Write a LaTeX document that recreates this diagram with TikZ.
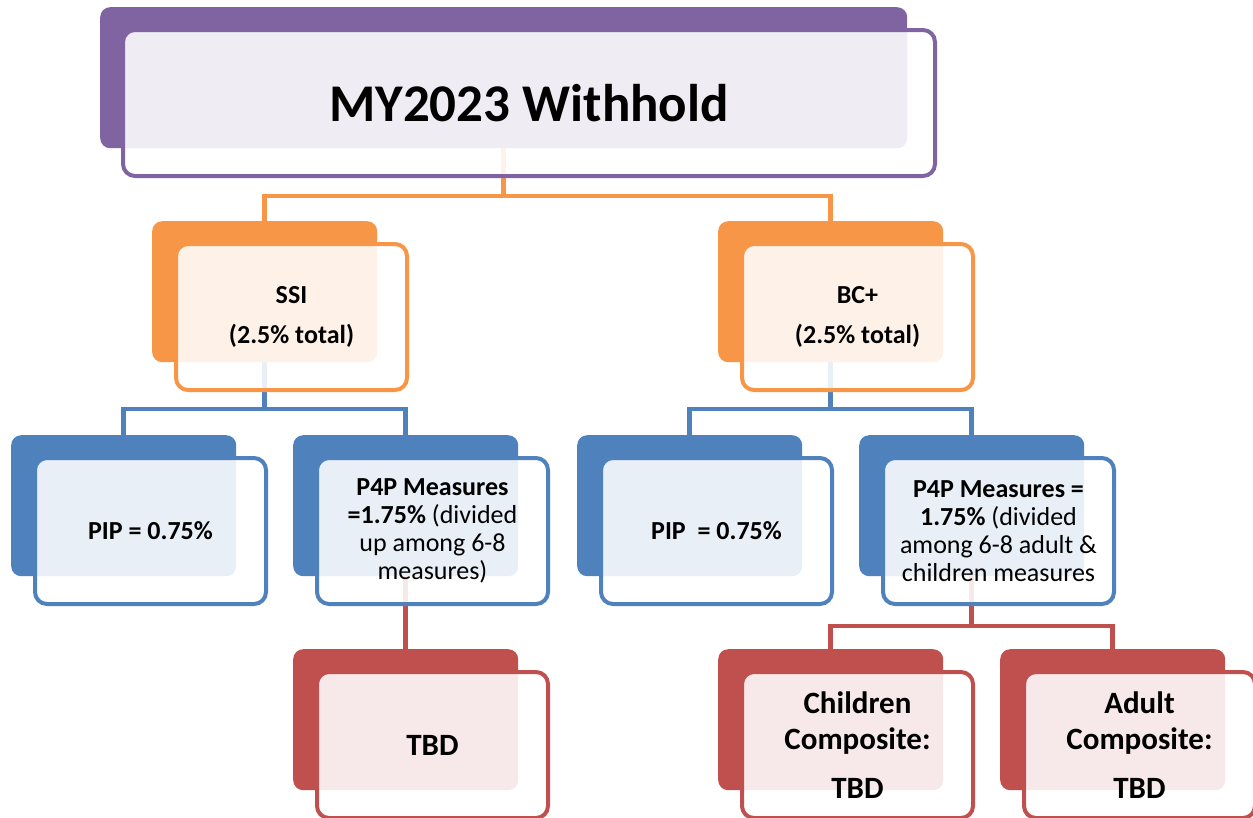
\documentclass[tikz,border=0pt]{standalone}
\usepackage{fontspec}
\setmainfont{Carlito}
\definecolor{cpur}{HTML}{8064A2}
\definecolor{cora}{HTML}{F79646}
\definecolor{cblu}{HTML}{4F81BD}
\definecolor{cred}{HTML}{C0504D}
\tikzset{
  backbox/.style={rectangle, rounded corners=10pt, inner sep=0pt, minimum width=225pt, minimum height=141pt, anchor=north west},
  frontbox/.style={rectangle, rounded corners=12pt, line width=4pt, fill=white, fill opacity=0.88, text opacity=1, minimum width=231pt, minimum height=146pt, anchor=north west, align=center, inner sep=2pt, text=black, font=\fontsize{26}{28}\selectfont},
  conn/.style={line width=4.5pt}
}
\newcommand\mkitem[6][]{%
  \node[backbox, fill=#3, #1] (#2B) at (#4,#5) {};
  \node[frontbox, draw=#3, #1] (#2F) at (#4+22,#5+21) {#6};
}
\begin{document}
\begin{tikzpicture}[x=1pt,y=-1pt]
\useasboundingbox (0,0) rectangle (1253,817);
% connectors (drawn first, faintly visible through the front boxes)
\coordinate (bus1) at (0,196);
\coordinate (bus2) at (0,409);
\coordinate (bus3) at (0,626);
\path (100,7) node[backbox, minimum width=807pt] (rootB) {};
\path (152,221) node[backbox] (ssiB) {};
\path (718,221) node[backbox] (bcB) {};
\path (11,435) node[backbox] (pipaB) {};
\path (293,435) node[backbox] (ppaB) {};
\path (577,435) node[backbox] (pipbB) {};
\path (859,435) node[backbox] (ppbB) {};
\path (293,649) node[backbox] (tbdB) {};
\path (718,649) node[backbox] (chB) {};
\path (1000,649) node[backbox] (adB) {};
\draw[conn, cora] (rootB.south) -- (rootB.south |- bus1) -| (ssiB.north);
\draw[conn, cora] (rootB.south |- bus1) -| (bcB.north);
\draw[conn, cblu] (ssiB.south) -- (ssiB.south |- bus2) -| (pipaB.north);
\draw[conn, cblu] (ssiB.south |- bus2) -| (ppaB.north);
\draw[conn, cblu] (bcB.south) -- (bcB.south |- bus2) -| (pipbB.north);
\draw[conn, cblu] (bcB.south |- bus2) -| (ppbB.north);
\draw[conn, cred] (ppaB.south) -- (tbdB.north);
\draw[conn, cred] (ppbB.south) -- (ppbB.south |- bus3) -| (chB.north);
\draw[conn, cred] (ppbB.south |- bus3) -| (adB.north);
% boxes
\node[backbox, fill=cpur, minimum width=807pt] at (100,7) {};
\node[frontbox, draw=cpur, minimum width=812pt, font=\fontsize{53}{60}\selectfont\bfseries] (rootF) at (121,28) {MY2023 Withhold};
\mkitem{ssi}{cora}{152}{221}{\textbf{SSI}\\[12pt]\textbf{(2.5\% total)}}
\mkitem{bc}{cora}{718}{221}{\textbf{BC+}\\[12pt]\textbf{(2.5\% total)}}
\mkitem{pipa}{cblu}{11}{435}{\textbf{PIP = 0.75\%}}
\mkitem{ppa}{cblu}{293}{435}{\textbf{P4P Measures}\\\textbf{=1.75\%} (divided\\up among 6-8\\measures)}
\mkitem{pipb}{cblu}{577}{435}{\textbf{PIP\ \ = 0.75\%}}
\mkitem{ppb}{cblu}{859}{435}{\textbf{P4P Measures =}\\\textbf{1.75\%} (divided\\among 6-8 adult \&\\children measures}
\mkitem[font=\fontsize{31}{36}\selectfont\bfseries]{tbd}{cred}{293}{649}{TBD}
\mkitem[font=\fontsize{31}{36}\selectfont\bfseries]{ch}{cred}{718}{649}{Children\\Composite:\\[13pt]TBD}
\mkitem[font=\fontsize{31}{36}\selectfont\bfseries]{ad}{cred}{1000}{649}{Adult\\Composite:\\[13pt]TBD}
\end{tikzpicture}
\end{document}
